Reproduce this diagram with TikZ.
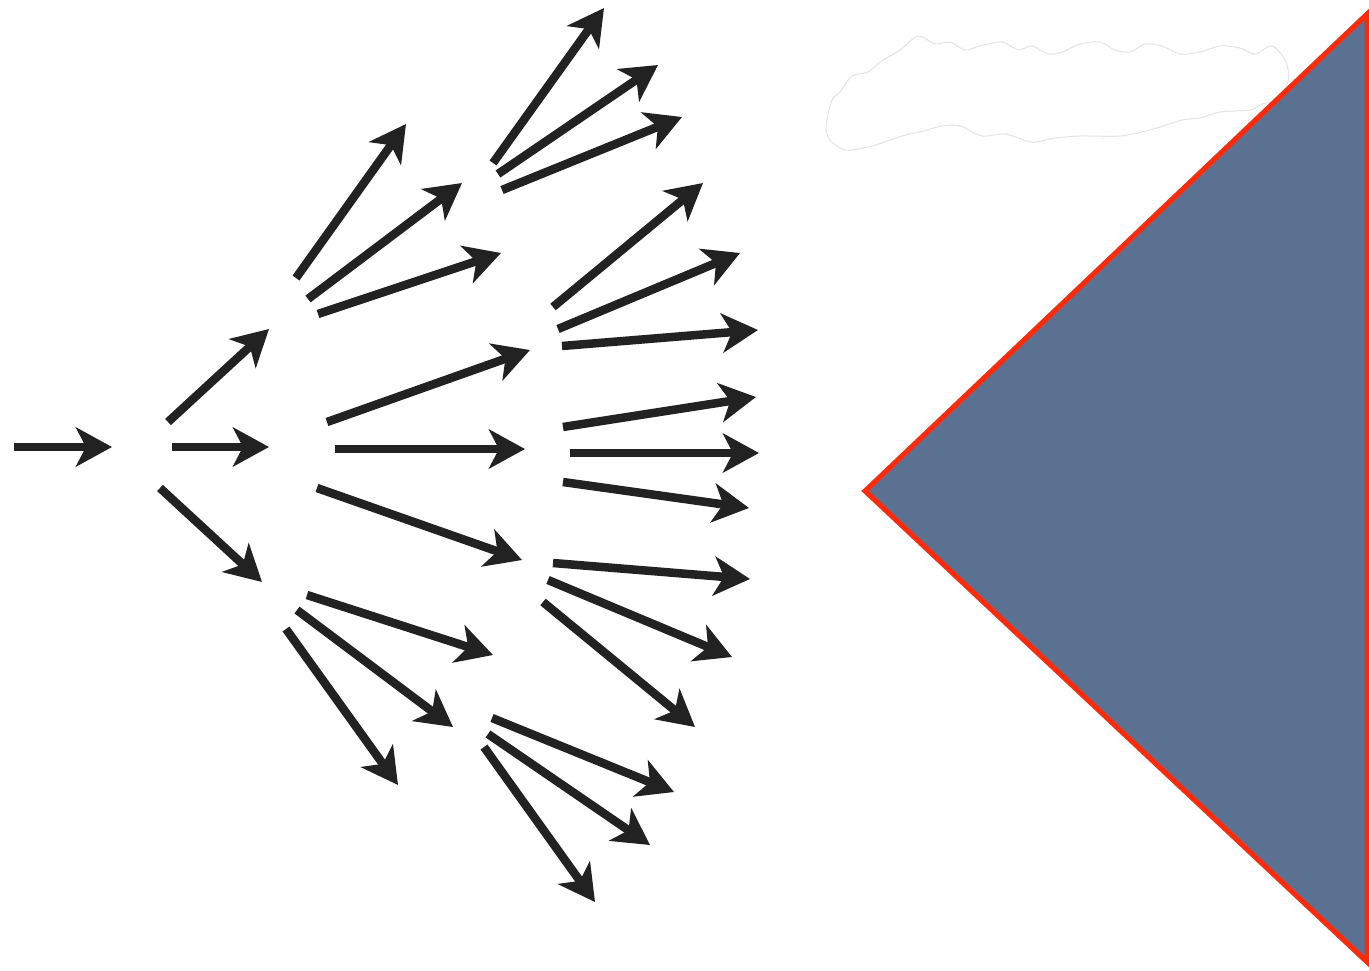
\documentclass[tikz,border=0pt]{standalone}
\usetikzlibrary{arrows.meta}
\definecolor{arrcol}{HTML}{222222}
\definecolor{trifill}{HTML}{5B7191}
\definecolor{triedge}{HTML}{FF2A0A}
\definecolor{cloudline}{HTML}{E4E4E4}
\begin{document}
\begin{tikzpicture}[x=1pt,y=-1pt,
  arr/.style={draw=arrcol,line width=8.5pt,-{Stealth[length=36pt,width=39pt,inset=10pt]}},
  tri/.style={draw=triedge,line width=5pt,fill=trifill,line join=miter},
  cloud/.style={draw=cloudline,line width=1pt,fill=white}]
\useasboundingbox (0,0) rectangle (1369,970);
\fill[white] (0,0) rectangle (1369,970);
% cloud
\draw[cloud] plot[smooth cycle,tension=0.5] coordinates {(826,126) (832,100) (840,92) (852,76) (868,72) (880,62) (900,50) (918,36) (935,44) (950,42) (965,50) (980,46) (1002,42) (1018,50) (1032,46) (1048,54) (1062,52) (1080,44) (1100,42) (1115,50) (1130,52) (1145,44) (1162,46) (1180,54) (1200,52) (1220,46) (1240,48) (1255,54) (1272,46) (1286,62) (1288,82) (1276,100) (1262,104) (1250,110) (1220,112) (1200,118) (1182,120) (1150,130) (1120,136) (1080,136) (1055,138) (1032,142) (1005,134) (982,136) (960,126) (942,126) (920,132) (902,136) (872,146) (846,150) (830,140)};
% triangle
\coordinate (tl) at (865,491);
\coordinate (tt) at (1367,14);
\coordinate (tb) at (1367,962);
\draw[tri] (tl) -- (tt) -- (tb) -- cycle;
% arrows
\foreach \i/\ax/\ay/\bx/\by in {
 1/14/447/112/447,
 2/168/422/269/329,
 3/172/447/269/447,
 4/160/488/262/582,
 5/296/278/406/124,
 6/308/299/462/183,
 7/318/314/501/253,
 8/327/422/530/350,
 9/335/449/525/449,
 10/317/488/522/560,
 11/307/595/493/655,
 12/297/610/453/727,
 13/286/629/398/785,
 14/493/163/604/8,
 15/498/174/658/65,
 16/502/190/682/117,
 17/553/307/703/183,
 18/558/329/740/253,
 19/562/346/758/330,
 20/563/427/756/397,
 21/570/453/759/453,
 22/563/482/749/508,
 23/553/563/750/579,
 24/548/580/732/657,
 25/543/602/695/727,
 26/492/718/674/792,
 27/488/734/650/845,
 28/484/747/595/902}
{
  \coordinate (t\i) at (\ax,\ay);
  \coordinate (h\i) at (\bx,\by);
  \draw[arr] (t\i) -- (h\i);
}
\end{tikzpicture}
\end{document}
